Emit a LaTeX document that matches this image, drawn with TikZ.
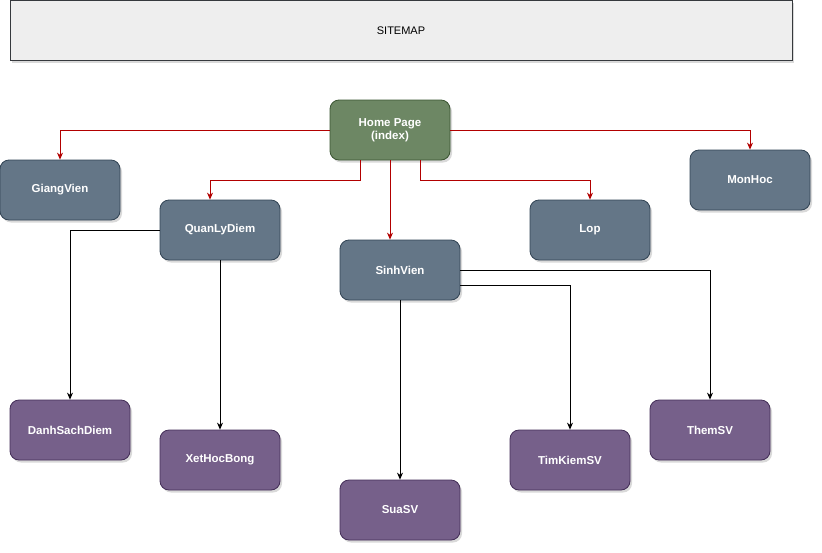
\documentclass[tikz,border=0pt]{standalone}
\usepackage{fontspec}
\setmainfont{Liberation Sans}
\usetikzlibrary{arrows.meta,shadows}
\definecolor{slatefill}{HTML}{647687}
\definecolor{slatestroke}{HTML}{314354}
\definecolor{purpfill}{HTML}{76608A}
\definecolor{purpstroke}{HTML}{432D57}
\definecolor{greenfill}{HTML}{6D8764}
\definecolor{greenstroke}{HTML}{3A5431}
\definecolor{redline}{HTML}{B20000}
\definecolor{bannerfill}{HTML}{EEEEEE}
\definecolor{bannerstroke}{HTML}{36393D}
\tikzset{
  shad/.style={drop shadow={shadow xshift=2pt, shadow yshift=-2.5pt, fill=black!60, opacity=0.25}},
  pagebox/.style={shad, rounded corners=9pt, minimum width=120pt, minimum height=60pt,
    line width=0.8pt, text=white, font=\fontsize{11.5}{13.5}\selectfont\bfseries, align=center, inner sep=0pt},
  slatebox/.style={pagebox, fill=slatefill, draw=slatestroke},
  purpbox/.style={pagebox, fill=purpfill, draw=purpstroke},
  homebox/.style={pagebox, fill=greenfill, draw=greenstroke},
  redarrow/.style={draw=redline, line width=0.8pt, -{Stealth[length=7pt,width=6pt]}},
  blackarrow/.style={draw=black, line width=0.8pt, -{Stealth[length=7pt,width=6pt]}},
}
\begin{document}
\begin{tikzpicture}[x=1pt,y=-1pt]
\useasboundingbox (0,0) rectangle (822,552);
\node[shad, fill=bannerfill, draw=bannerstroke, line width=0.8pt, minimum width=782pt, minimum height=60pt,
  inner sep=0pt, font=\fontsize{11}{13}\selectfont] (banner) at (401,30.5) {SITEMAP};
\node[homebox] (home) at (390,130) {Home Page\\(index)};
\node[slatebox] (gv) at (60,190) {GiangVien};
\node[slatebox] (qld) at (220,230) {QuanLyDiem};
\node[slatebox] (sv) at (400,270) {SinhVien};
\node[slatebox] (lop) at (590,230) {Lop};
\node[slatebox] (mh) at (750,180) {MonHoc};
\node[purpbox] (dsd) at (70,430) {DanhSachDiem};
\node[purpbox] (xhb) at (220,460) {XetHocBong};
\node[purpbox] (sua) at (400,510) {SuaSV};
\node[purpbox] (tk) at (570,460) {TimKiemSV};
\node[purpbox] (them) at (710,430) {ThemSV};
% red connectors
\draw[redarrow] (home.west) -| (gv.north);
\draw[redarrow] ([xshift=-30pt]home.south) -- ++(0,20) -| ([xshift=-10pt]qld.north);
\draw[redarrow] (home.south) -- (home.south |- sv.north);
\draw[redarrow] ([xshift=30pt]home.south) -- ++(0,20) -| (lop.north);
\draw[redarrow] (home.east) -| (mh.north);
% black connectors
\draw[blackarrow] (qld.west) -| (dsd.north);
\draw[blackarrow] (qld.south) -- (xhb.north);
\draw[blackarrow] (sv.south) -- (sua.north);
\draw[blackarrow] ([yshift=-15pt]sv.east) -| (tk.north);
\draw[blackarrow] (sv.east) -| (them.north);
\end{tikzpicture}
\end{document}
